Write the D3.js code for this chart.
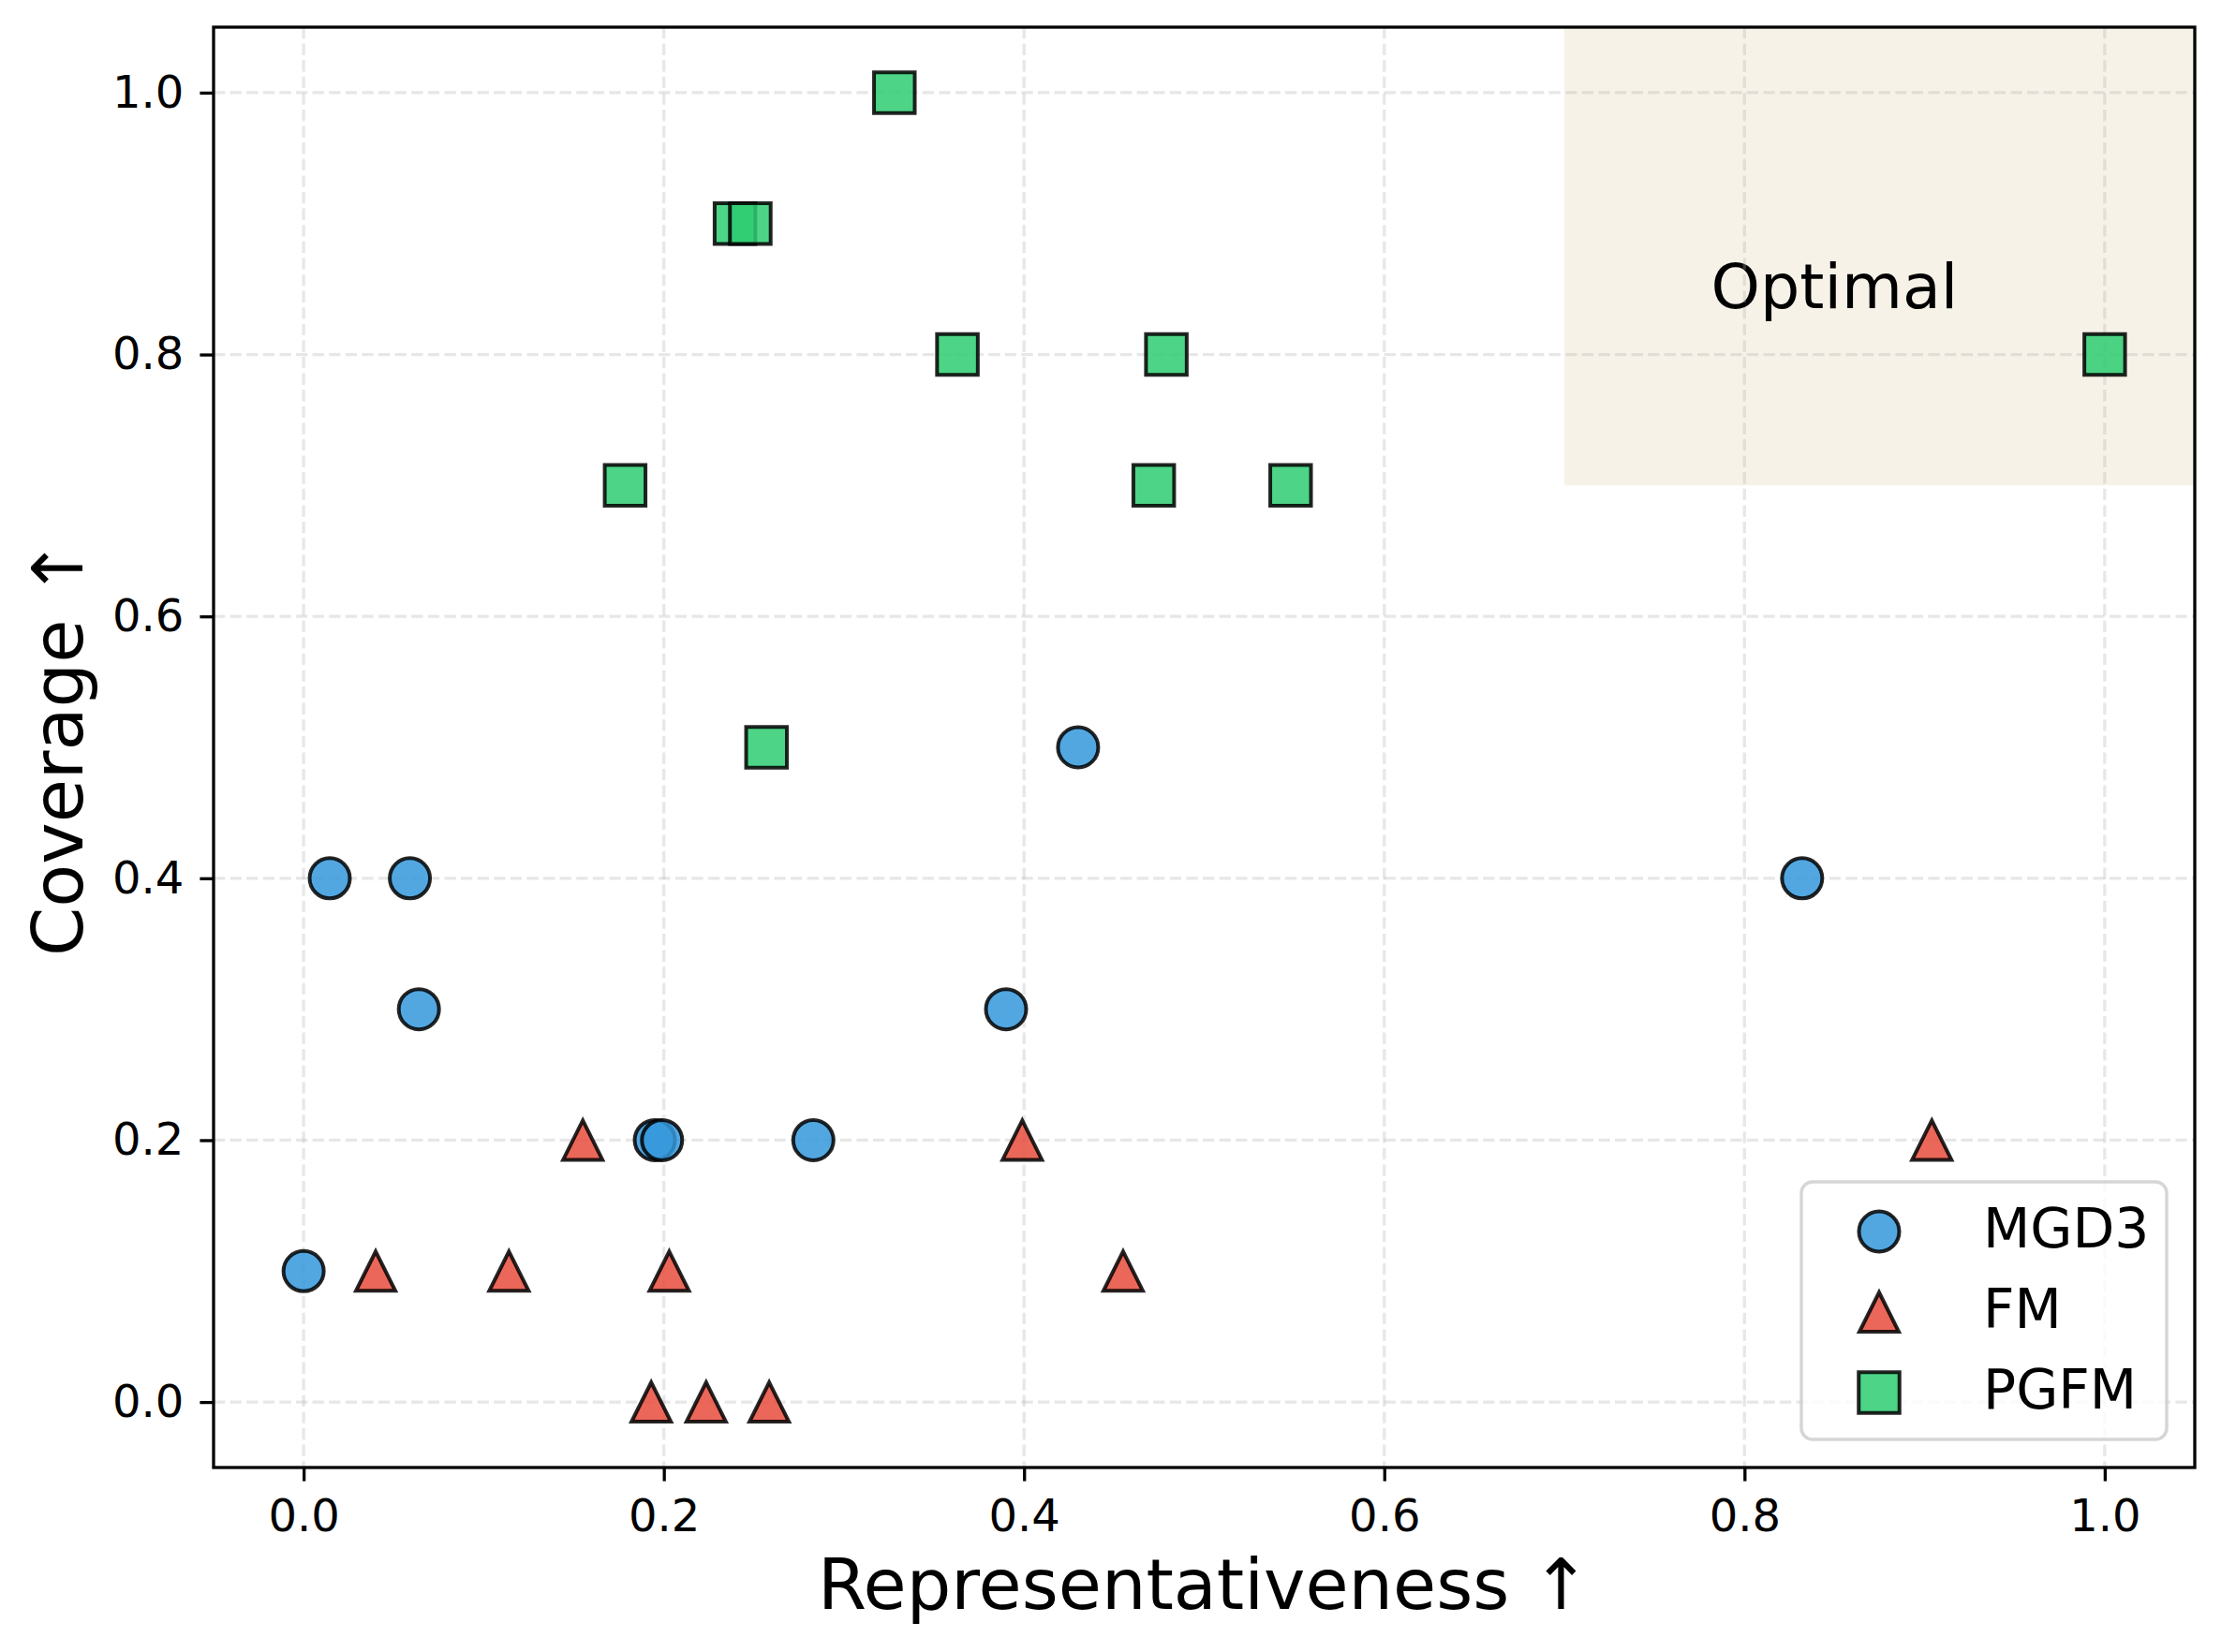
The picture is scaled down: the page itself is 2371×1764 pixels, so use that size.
<!DOCTYPE html>
<html>
<head>
<meta charset="utf-8">
<script src="https://cdn.jsdelivr.net/npm/d3@7"></script>
<style>
  body { margin: 0; background: #fff; }
  text { font-family: "DejaVu Sans", sans-serif; fill: #000; }
</style>
</head>
<body>
<div id="chart"></div>
<script>
// data: [representativeness, coverage]
const mgd3 = [[0.0, 0.1], [0.0145, 0.4], [0.059, 0.4], [0.064, 0.3], [0.195, 0.2],
              [0.199, 0.2], [0.283, 0.2], [0.39, 0.3], [0.43, 0.5], [0.832, 0.4]]
const fm = [[0.04, 0.1], [0.114, 0.1], [0.155, 0.2], [0.193, 0.0], [0.203, 0.1],
            [0.2235, 0.0], [0.2585, 0.0], [0.399, 0.2], [0.455, 0.1], [0.904, 0.2]]
const pgfm = [[0.1785, 0.7], [0.2395, 0.9], [0.248, 0.9], [0.257, 0.5], [0.328, 1.0],
              [0.363, 0.8], [0.472, 0.7], [0.479, 0.8], [0.548, 0.7], [1.0, 0.8]]
const seriesNames = ["MGD3", "FM", "PGFM"]
const seriesColors = ["#3498db", "#e74c3c", "#2ecc71"]
const xTicks = [0.0, 0.2, 0.4, 0.6, 0.8, 1.0]
const yTicks = [0.0, 0.2, 0.4, 0.6, 0.8, 1.0]
const optimalX = [0.7, 1.05]
const optimalY = [0.7, 1.05]

const width = 2371, height = 1764
const margin = {top: 29, right: 28, bottom: 197, left: 228}

// matplotlib-like markers, centred on their bounding box
const triangleUp = {
    draw(ctx, size) {
        const h = Math.sqrt(size) / 2
        ctx.moveTo(0, -h)
        ctx.lineTo(h, h)
        ctx.lineTo(-h, h)
        ctx.closePath()
    }
}
const shapes = [d3.symbolCircle, triangleUp, d3.symbolSquare]
const sizes = [Math.PI * 21.5 * 21.5, 42 * 42, 43.5 * 43.5]

const svg = d3.select("#chart")
    .append("svg")
    .attr("width", width)
    .attr("height", height)

svg.append("rect").attr("width", width).attr("height", height).attr("fill", "#fff")

const x = d3.scaleLinear().domain([-0.05, 1.05]).range([margin.left, width - margin.right])
const y = d3.scaleLinear().domain([-0.05, 1.05]).range([height - margin.bottom, margin.top])

// "Optimal" zone
svg.append("rect")
    .attr("x", x(optimalX[0]))
    .attr("y", y(optimalY[1]))
    .attr("width", x(optimalX[1]) - x(optimalX[0]))
    .attr("height", y(optimalY[0]) - y(optimalY[1]))
    .attr("fill", "#f7f2e8")

svg.append("text")
    .attr("x", x((optimalX[0] + 1.0) / 2))
    .attr("y", y(0.85))
    .attr("dy", "0.31em")
    .attr("text-anchor", "middle")
    .style("font-size", "66.7px")
    .text("Optimal")

// grid
const grid = svg.append("g")
    .attr("stroke", "#b0b0b0")
    .attr("stroke-opacity", 0.3)
    .attr("stroke-width", 3.3)
    .attr("stroke-dasharray", "12.3,5.3")
grid.selectAll("line.gx").data(xTicks).enter().append("line")
    .attr("x1", d => x(d)).attr("x2", d => x(d))
    .attr("y1", y(1.05)).attr("y2", y(-0.05))
grid.selectAll("line.gy").data(yTicks).enter().append("line")
    .attr("x1", x(-0.05)).attr("x2", x(1.05))
    .attr("y1", d => y(d)).attr("y2", d => y(d))

// points
const allSeries = [mgd3, fm, pgfm]
allSeries.forEach(function(data, i) {
    svg.append("g")
        .selectAll("path")
        .data(data)
        .enter()
        .append("path")
        .attr("transform", d => `translate(${x(d[0])},${y(d[1])})`)
        .attr("d", d3.symbol().type(shapes[i]).size(sizes[i]))
        .attr("fill", seriesColors[i])
        .attr("fill-opacity", 0.85)
        .attr("stroke", "#000")
        .attr("stroke-opacity", 0.85)
        .attr("stroke-width", 4)
})

// axes
const xAxis = svg.append("g")
    .attr("transform", `translate(0,${height - margin.bottom})`)
    .call(d3.axisBottom(x).tickValues(xTicks).tickFormat(d3.format(".1f")).tickSize(14.6).tickPadding(19))
const yAxis = svg.append("g")
    .attr("transform", `translate(${margin.left},0)`)
    .call(d3.axisLeft(y).tickValues(yTicks).tickFormat(d3.format(".1f")).tickSize(14.6).tickPadding(17))

;[xAxis, yAxis].forEach(function(a) {
    a.select(".domain").remove()
    a.selectAll(".tick line").attr("stroke", "#000").attr("stroke-width", 3.3)
    a.selectAll(".tick text").style("font-size", "48px").attr("font-family", "DejaVu Sans")
})

// frame
svg.append("rect")
    .attr("x", x(-0.05)).attr("y", y(1.05))
    .attr("width", x(1.05) - x(-0.05))
    .attr("height", y(-0.05) - y(1.05))
    .attr("fill", "none")
    .attr("stroke", "#000")
    .attr("stroke-width", 3.3)

// axis labels
svg.append("text")
    .attr("x", (x(-0.05) + x(1.05)) / 2)
    .attr("y", 1718)
    .attr("text-anchor", "middle")
    .style("font-size", "75px")
    .text("Representativeness ↑")

svg.append("text")
    .attr("transform", `translate(88,${(y(-0.05) + y(1.05)) / 2}) rotate(-90)`)
    .attr("text-anchor", "middle")
    .style("font-size", "75px")
    .text("Coverage ↑")

// legend
const legW = 390, legH = 275
const legX = x(1.05) - 30 - legW, legY = y(-0.05) - 30 - legH
const legend = svg.append("g").attr("transform", `translate(${legX},${legY})`)
legend.append("rect")
    .attr("width", legW).attr("height", legH)
    .attr("rx", 12)
    .attr("fill", "#fff")
    .attr("fill-opacity", 0.8)
    .attr("stroke", "#cccccc")
    .attr("stroke-opacity", 0.8)
    .attr("stroke-width", 3.5)

const rows = legend.selectAll("g.row")
    .data(seriesNames)
    .enter()
    .append("g")
    .attr("transform", (d, i) => `translate(0,${53 + i * 86})`)
rows.append("path")
    .attr("transform", "translate(83,0)")
    .attr("d", (d, i) => d3.symbol().type(shapes[i]).size(sizes[i])())
    .attr("fill", (d, i) => seriesColors[i])
    .attr("fill-opacity", 0.85)
    .attr("stroke", "#000")
    .attr("stroke-opacity", 0.85)
    .attr("stroke-width", 4)
rows.append("text")
    .attr("x", 194)
    .attr("y", 17)
    .style("font-size", "58.3px")
    .text(d => d)
</script>
</body>
</html>
